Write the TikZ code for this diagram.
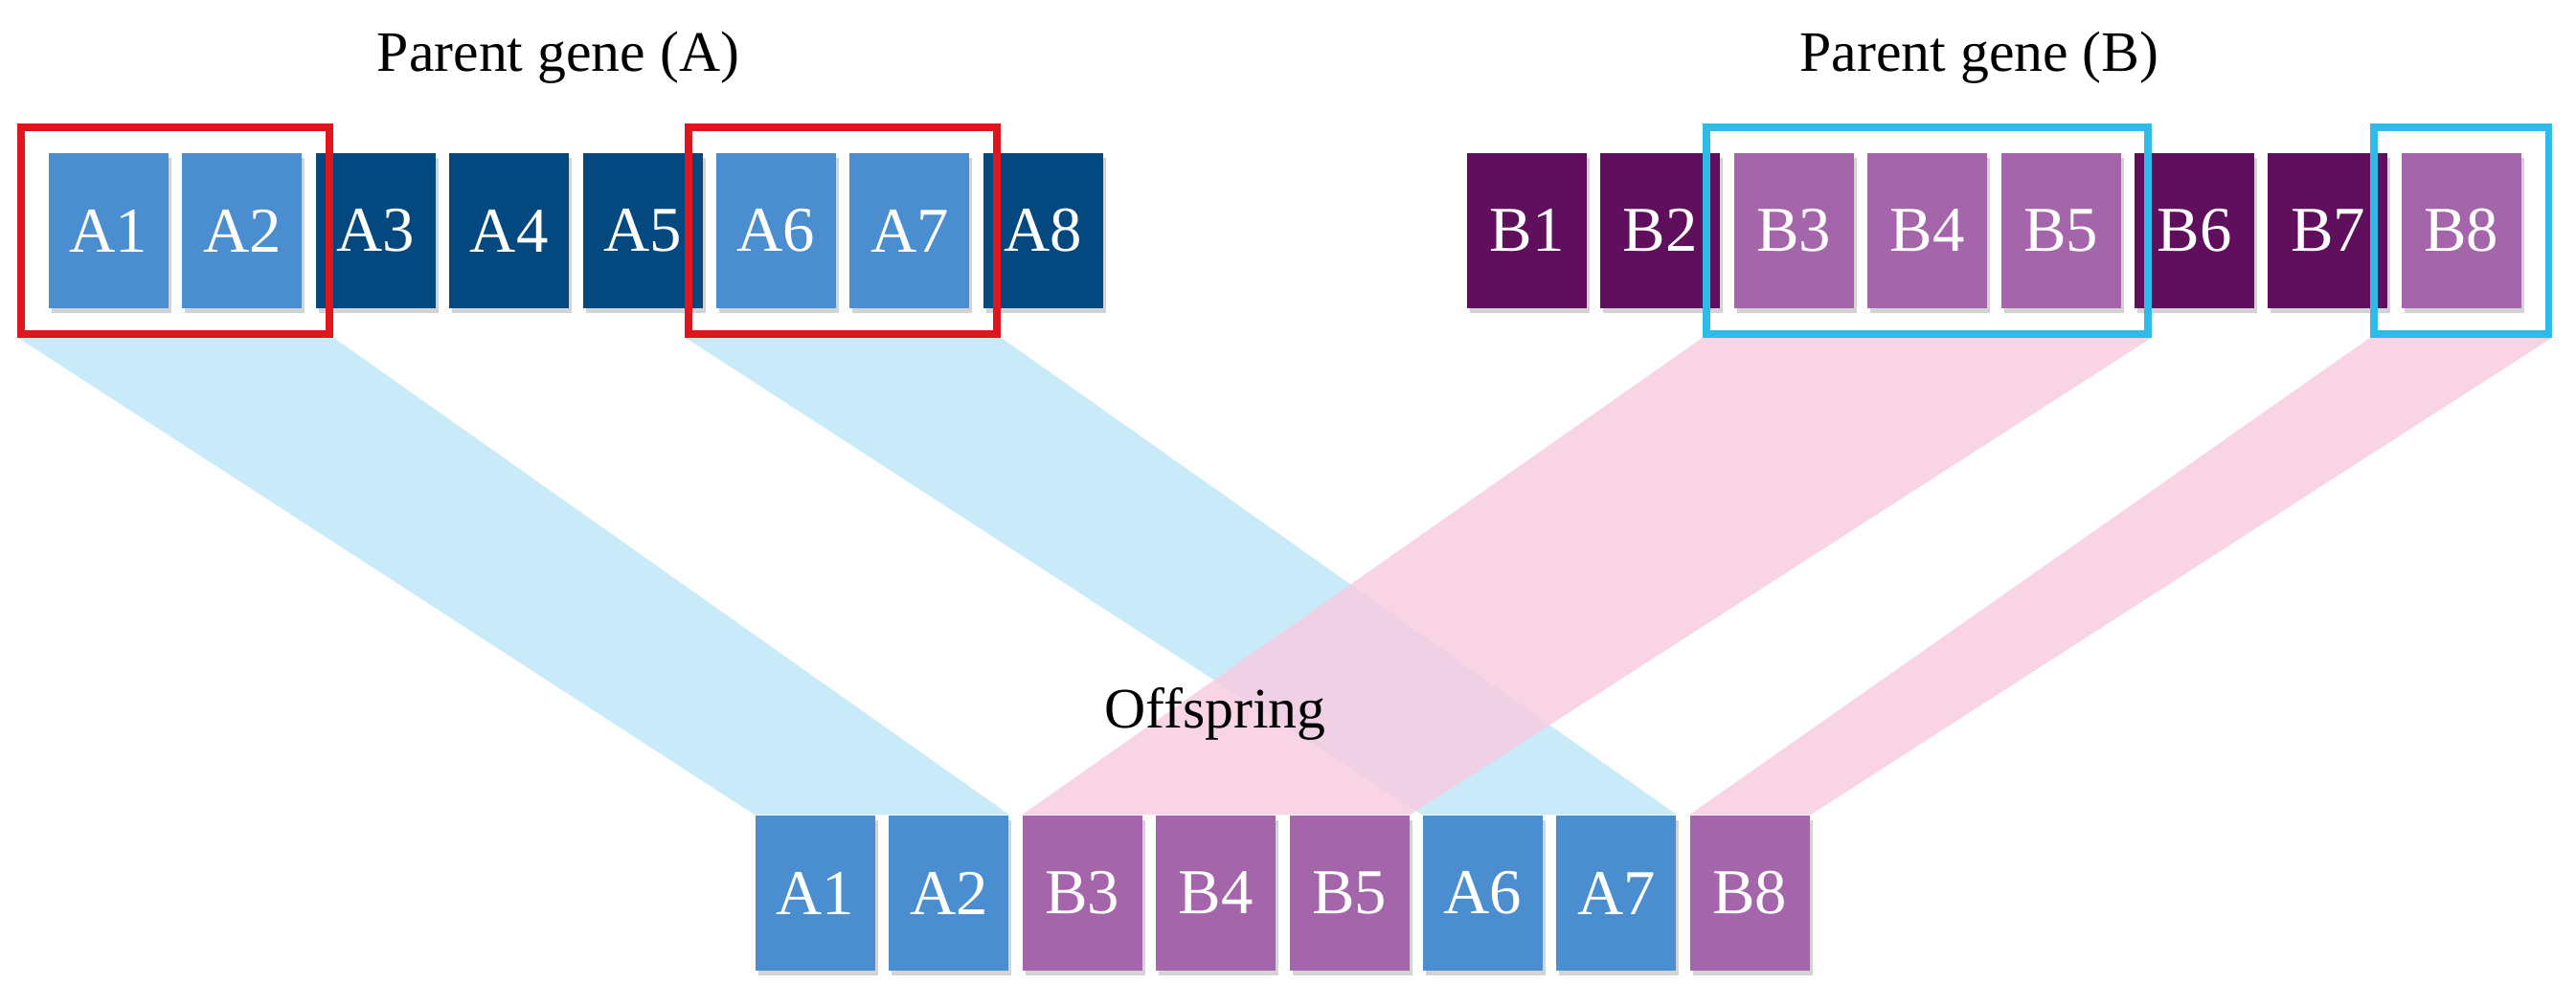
\documentclass[tikz,border=0pt]{standalone}
\usepackage{fontspec}
\setmainfont{Liberation Serif}
\usetikzlibrary{positioning, fit, backgrounds, shadows}

\definecolor{lightA}{HTML}{4A8ED0}
\definecolor{darkA}{HTML}{03497F}
\definecolor{lightB}{HTML}{A565AB}
\definecolor{darkB}{HTML}{5F0F5B}
\definecolor{bandA}{HTML}{BEE6F8}
\definecolor{bandB}{HTML}{F8CCE0}
\definecolor{selA}{HTML}{E0161E}
\definecolor{selB}{HTML}{2EBBE8}

\tikzset{
    gene/.style={minimum width=1.25cm, minimum height=1.62cm, inner sep=0pt,
        text=white, font=\fontsize{19}{19}\selectfont,
        drop shadow={shadow xshift=0.03cm, shadow yshift=-0.05cm, opacity=0.35}},
    title/.style={font=\fontsize{17}{17}\selectfont},
    sel/.style={draw, line width=2.2pt, inner xsep=0.28cm, inner ysep=0.26cm},
    band/.style={opacity=0.85}
}

\begin{document}
\begin{tikzpicture}[node distance=0.13cm]
    \useasboundingbox (0,0) rectangle (26.9,10.52);

    % parent A
    \node[gene, fill=lightA] (a1) at (1.135,8.11) {A1};
    \foreach \i/\c [remember=\i as \j (initially 1)] in {2/lightA,3/darkA,4/darkA,5/darkA,6/lightA,7/lightA,8/darkA} {
        \node[gene, fill=\c, right=of a\j] (a\i) {A\i};
    }

    % parent B
    \node[gene, fill=darkB] (b1) at (15.945,8.11) {B1};
    \foreach \i/\c [remember=\i as \j (initially 1)] in {2/darkB,3/lightB,4/lightB,5/lightB,6/darkB,7/darkB,8/lightB} {
        \node[gene, fill=\c, right=of b\j] (b\i) {B\i};
    }

    % offspring
    \node[gene, fill=lightA] (o1) at (8.515,1.19) {A1};
    \foreach \i/\c/\t [remember=\i as \j (initially 1)] in {2/lightA/A2,3/lightB/B3,4/lightB/B4,5/lightB/B5,6/lightA/A6,7/lightA/A7,8/lightB/B8} {
        \node[gene, fill=\c, right=of o\j] (o\i) {\t};
    }

    % selections
    \node[sel, draw=selA, fit=(a1)(a2)] (sa1) {};
    \node[sel, draw=selA, fit=(a6)(a7)] (sa2) {};
    \node[sel, draw=selB, fit=(b3)(b5)] (sb1) {};
    \node[sel, draw=selB, fit=(b8)] (sb2) {};

    % titles
    \node[title] (ta) at (5.83,9.92) {Parent gene (A)};
    \node[title] (tb) at (20.67,9.92) {Parent gene (B)};
    \node[title] (to) at (12.69,3.06) {Offspring};

    % bands
    \begin{scope}[on background layer]
        \fill[band, bandA] (sa1.south west) -- (sa1.south east) -- (o2.north east) -- (o1.north west) -- cycle;
        \fill[band, bandA] (sa2.south west) -- (sa2.south east) -- (o7.north east) -- (o6.north west) -- cycle;
        \fill[band, bandB] (sb1.south west) -- (sb1.south east) -- (o5.north east) -- (o3.north west) -- cycle;
        \fill[band, bandB] (sb2.south west) -- (sb2.south east) -- (o8.north east) -- (o8.north west) -- cycle;
    \end{scope}
\end{tikzpicture}
\end{document}
